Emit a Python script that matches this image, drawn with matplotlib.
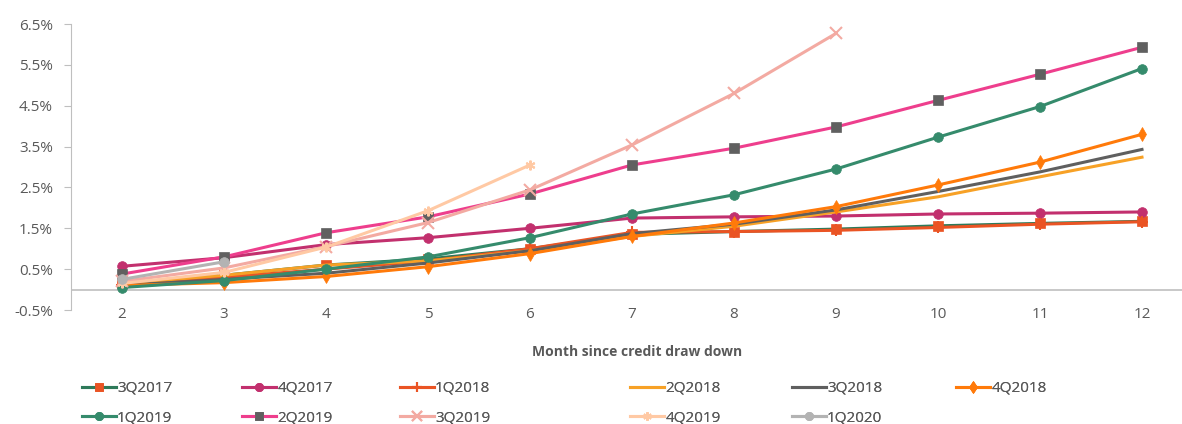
import matplotlib.pyplot as plt
import numpy as np

plt.rcParams['font.family'] = ['Open Sans', 'DejaVu Sans']

# Months since credit draw down
months = [2, 3, 4, 5, 6, 7, 8, 9, 10, 11, 12]

# Cumulative default rate (%) per vintage
q3_2017 = [0.15, 0.35, 0.60, 0.75, 1.00, 1.35, 1.42, 1.48, 1.56, 1.62, 1.67]
q4_2017 = [0.57, 0.78, 1.10, 1.27, 1.50, 1.75, 1.78, 1.80, 1.85, 1.87, 1.90]
q1_2018 = [0.10, 0.30, 0.50, 0.70, 1.00, 1.40, 1.42, 1.45, 1.52, 1.60, 1.66]
q2_2018 = [0.15, 0.35, 0.60, 0.70, 0.95, 1.30, 1.55, 1.90, 2.27, 2.76, 3.24]
q3_2018 = [0.10, 0.25, 0.40, 0.65, 0.95, 1.37, 1.60, 1.95, 2.40, 2.88, 3.43]
q4_2018 = [0.10, 0.17, 0.32, 0.56, 0.88, 1.30, 1.63, 2.03, 2.56, 3.12, 3.80]
q1_2019 = [0.05, 0.22, 0.50, 0.80, 1.27, 1.85, 2.32, 2.95, 3.73, 4.48, 5.41]
q2_2019 = [0.38, 0.80, 1.39, 1.78, 2.34, 3.05, 3.46, 3.98, 4.63, 5.27, 5.93]
q3_2019 = [0.20, 0.53, 1.05, 1.64, 2.44, 3.54, 4.80, 6.27]
q4_2019 = [0.15, 0.42, 1.04, 1.93, 3.05]
q1_2020 = [0.25, 0.68]

series = [
    ('3Q2017', q3_2017, '#2E7A5A', 's', '#EA5424'),
    ('4Q2017', q4_2017, '#C2306E', 'o', '#C2306E'),
    ('1Q2018', q1_2018, '#EA5424', '+', '#EA5424'),
    ('2Q2018', q2_2018, '#F7A126', None, None),
    ('3Q2018', q3_2018, '#5F5F5F', None, None),
    ('4Q2018', q4_2018, '#FF7A0A', 'd', '#FF7A0A'),
    ('1Q2019', q1_2019, '#358B6C', 'o', '#358B6C'),
    ('2Q2019', q2_2019, '#EE3E8D', 's', '#606060'),
    ('3Q2019', q3_2019, '#F3AAA2', 'x', '#F3AAA2'),
    ('4Q2019', q4_2019, '#FFC9A4', (6, 2, 0), '#FFC9A4'),
    ('1Q2020', q1_2020, '#B3B3B3', 'o', '#B3B3B3'),
]

fig = plt.figure(figsize=(11.82, 4.24), dpi=100)
W, H = 1182, 424
ax = fig.add_axes([71 / W, 1 - 310 / H, (1193 - 71) / W, (310 - 24) / H])

handles = []
for name, vals, color, marker, mcolor in series:
    h, = ax.plot(months[:len(vals)], vals, color=color, lw=2.2, label=name,
                 marker=marker, markersize=7 if marker not in ('+', 'x') else 9,
                 markerfacecolor=mcolor, markeredgecolor=mcolor,
                 markeredgewidth=1.5 if marker in ('+', 'x', (6, 2, 0)) else 0.5)
    handles.append(h)

ax.set_xlim(1.5, 12.5)
ax.set_ylim(-0.5, 6.5)
ax.set_yticks(np.arange(-0.5, 6.6, 1.0))
ax.set_yticklabels([f'{v:.1f}%' for v in np.arange(-0.5, 6.6, 1.0)])
ax.set_xticks(months)
ax.axhline(0, color='#BFBFBF', lw=1.2, zorder=0)

for s in ['top', 'right', 'bottom']:
    ax.spines[s].set_visible(False)
ax.spines['left'].set_color('#BFBFBF')
ax.tick_params(axis='y', colors='#BFBFBF', labelcolor='#595959', labelsize=11,
               length=5, pad=8)
ax.tick_params(axis='x', length=0, labelcolor='#595959', labelsize=11, pad=-2)

fig.text(637 / W, 1 - 352 / H, 'Month since credit draw down', ha='center',
         va='center', fontsize=10, fontweight='bold', color='#595959')

# legend: 6 columns placed like the original (uneven gaps)
col_x = [82, 242, 400, 630, 792, 956]
for i, x in enumerate(col_x):
    idx = [j for j in (i, i + 6) if j < len(handles)]
    leg = fig.legend([handles[j] for j in idx], [series[j][0] for j in idx],
                     loc='upper left', bbox_to_anchor=(x / W, 1 - 381 / H),
                     frameon=False, fontsize=11, labelcolor='#595959',
                     handlelength=2.2, handletextpad=0.1, labelspacing=0.95,
                     borderaxespad=0, borderpad=0, markerscale=0.85)
    fig.add_artist(leg)

plt.savefig('out.png', dpi=100)
